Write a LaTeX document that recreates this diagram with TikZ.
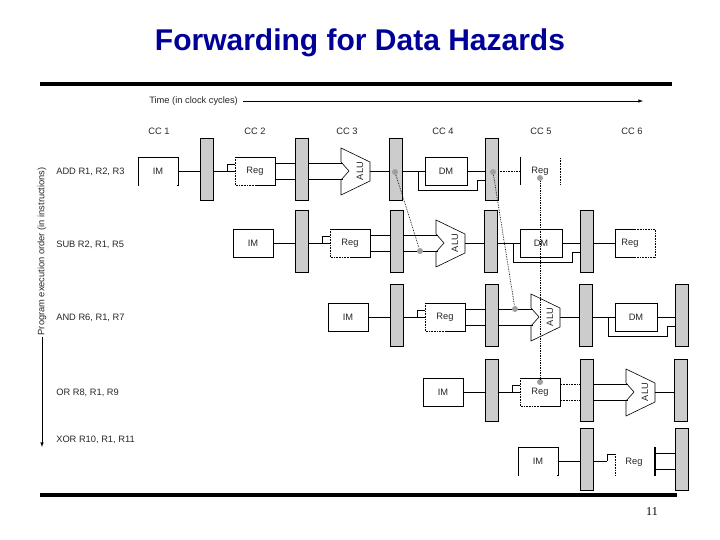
\documentclass[tikz,border=0pt]{standalone}
\usepackage{fontspec}
\setmainfont{Liberation Sans}
\newfontfamily\serifnum{Liberation Serif}
\begin{document}
\begin{tikzpicture}[x=1pt,y=-1pt,line width=0.6pt]
\tikzset{pr/.style={draw,fill=gray!40,line width=0.6pt},
 box/.style={draw,line width=0.6pt},
 dotn/.style={fill=gray!75,circle,inner sep=0pt,minimum size=6pt},
 fw/.style={densely dotted,line width=0.7pt},
 lbl/.style={font=\fontsize{9.3}{10}\selectfont,inner sep=1pt,text=black!85}}
\useasboundingbox (0,0) rectangle (720,540);
\newcommand\preg[2]{\draw[pr] (#1,#2-33) rectangle (#1+13,#2+29);}
\newcommand\pipe[3]{%
 \draw[box] (#1,#2-14) rectangle (#1+40,#2+14); \node[lbl] at (#1+20,#2) {IM};
 \draw (#1+40,#2) -- (#1+62,#2);
 \preg{#1+62}{#2}
 \ifnum#3>2
   \draw (#1+75,#2)--(#1+89,#2)--(#1+89,#2-7)--(#1+97,#2-7); \draw (#1+89,#2)--(#1+97,#2);
   \draw[densely dotted] (#1+97,#2-14)--(#1+97,#2+14)--(#1+117,#2+14);
   \draw (#1+97,#2-14)--(#1+137,#2-14)--(#1+137,#2+14)--(#1+117,#2+14);
   \node[lbl] at (#1+117,#2) {Reg};
   \draw (#1+137,#2-8)--(#1+157,#2-8) (#1+137,#2+8)--(#1+157,#2+8);
   \preg{#1+157}{#2}
 \fi
 \ifnum#3>4
   \draw (#1+170,#2-8)--(#1+205,#2-8) (#1+170,#2+8)--(#1+205,#2+8);
   \draw[box] (#1+203,#2-23)--(#1+232,#2-9)--(#1+232,#2+10)--(#1+203,#2+24)--(#1+203,#2+9)--(#1+211,#2)--(#1+203,#2-9)--cycle;
   \node[lbl,rotate=90] at (#1+222,#2) {ALU};
   \draw (#1+232,#2)--(#1+251,#2); \preg{#1+251}{#2}
 \fi
 \ifnum#3>6
   \draw (#1+264,#2)--(#1+287,#2);
   \draw (#1+280,#2)--(#1+280,#2+19)--(#1+339,#2+19)--(#1+339,#2+9)--(#1+347,#2+9);
   \draw[box] (#1+287,#2-14) rectangle (#1+329,#2+14); \node[lbl] at (#1+308,#2) {DM};
   \draw (#1+329,#2)--(#1+347,#2); \preg{#1+347}{#2}
 \fi}
% title and rules
\node[font=\bfseries\fontsize{30}{34}\selectfont,text=blue!60!black] (title) at (360,43) {Forwarding for Data Hazards};
\draw[line width=4pt] (40,84) -- (672,84);
\draw[line width=4pt] (40,495) -- (677,495);
\node[font=\serifnum\fontsize{12}{13}\selectfont] (pg) at (652,512) {11};
% axes
\node[lbl,anchor=west] (time) at (148,101) {Time (in clock cycles)};
\coordinate (tend) at (643,101);
\draw[-latex] (time.east) ++(4,0) -- (tend);
\foreach \x/\t in {159/1,255/2,347/3,443/4,541/5,632/6}{\node[lbl] at (\x,131) {CC \t};}
\node[lbl,rotate=90,anchor=east] (prog) at (42,166) {Program execution order (in instructions)};
\coordinate (pend) at (42,447);
\draw[-latex] (prog.west) -- (pend);
\node[lbl,anchor=west] at (55,172) {ADD R1, R2, R3};
\node[lbl,anchor=west] at (55,245) {SUB R2, R1, R5};
\node[lbl,anchor=west] at (55,318) {AND R6, R1, R7};
\node[lbl,anchor=west] at (55,393) {OR R8, R1, R9};
\node[lbl,anchor=west] at (55,440) {XOR R10, R1, R11};
% rows
\pipe{138}{171}{8}
\draw[white,line width=1.5pt] (139,185)--(177,185);
\draw[densely dotted] (498,171)--(520,171);
\draw (520,157)--(520,185); \draw[densely dotted] (560,158)--(560,185);
\node[lbl] at (540,171) {Reg};
\pipe{233}{243}{8}
\draw (593,243)--(615,243);
\draw (635,229)--(615,229)--(615,257)--(635,257);
\draw[densely dotted] (635,229)--(655,229)--(655,257)--(635,257);
\node[lbl] at (630,243) {Reg};
\pipe{328}{317}{8}
\pipe{423}{392}{6}
\draw[white,line width=1.5pt] (561,384)--(579,384) (561,400)--(579,400);
\draw[densely dotted] (561,384)--(580,384) (561,400)--(580,400);
\pipe{518}{461}{2}
\draw[white,line width=2pt] (519,475.2)--(557,475.2);
\draw (593,461)--(607,461); \draw (607,461)--(607,454)--(615,454);
\draw[densely dotted] (615,454)--(615,476);
\node[lbl] at (634,462) {Reg};
\draw[line width=1.6pt] (655,447)--(655,476);
\draw (655,453)--(675,453) (655,469)--(675,469);
\preg{675}{461}
% forwarding
\node[dotn] (f1a) at (395,172) {};
\node[dotn] (f1b) at (420,251) {};
\draw[fw] (f1a) -- (f1b);
\node[dotn] (f2a) at (493,172) {};
\node[dotn] (f2b) at (515,309) {};
\draw[fw] (f2a) -- (f2b);
\node[dotn] (f3a) at (540,178) {};
\node[dotn] (f3b) at (540,382) {};
\draw[fw] (f3a) -- (f3b);
\end{tikzpicture}
\end{document}
